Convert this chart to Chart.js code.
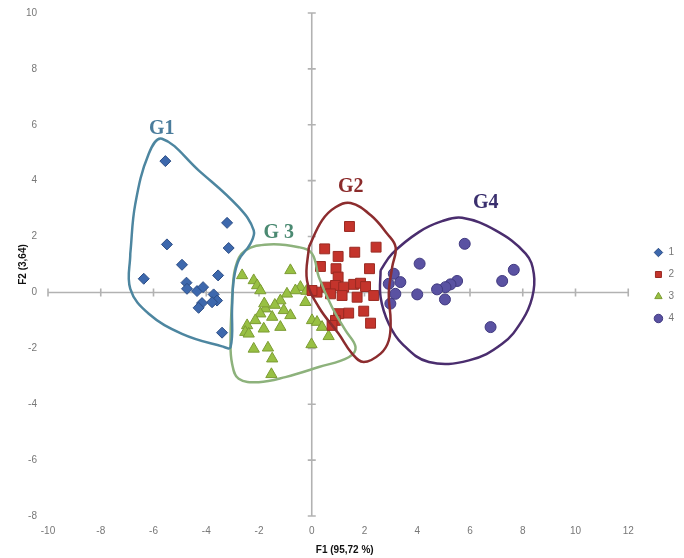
<!DOCTYPE html>
<html>
<head>
<meta charset="utf-8">
<script src="https://cdn.jsdelivr.net/npm/chart.js@4/dist/chart.umd.min.js"></script>
<style>
html,body{margin:0;padding:0;background:#fff;}
#c{display:block;}
</style>
</head>
<body>
<canvas id="c" width="684" height="558"></canvas>
<script>
// ---- axis ranges / titles ----
const xRange = [-10, 12];
const yRange = [-8, 10];
const tickStep = 2;
const xTitle = 'F1 (95,72 %)';
const yTitle = 'F2 (3,64)';

// ---- series (F1, F2) ----
const seriesNames = ['1', '2', '3', '4'];
const group1 = [[-5.55,4.70],[-3.21,2.49],[-5.49,1.72],[-3.15,1.59],[-4.92,0.99],[-6.37,0.49],[-3.55,0.61],[-4.75,0.35],[-4.73,0.13],[-4.35,0.05],[-4.12,0.19],[-3.72,-0.07],[-3.59,-0.29],[-3.78,-0.35],[-4.16,-0.38],[-4.29,-0.55],[-3.40,-1.44]];
const group2 = [[1.43,2.36],[0.49,1.56],[1.00,1.29],[1.63,1.44],[2.44,1.62],[0.33,0.93],[0.92,0.85],[2.19,0.85],[1.00,0.55],[0.52,0.19],[0.90,0.25],[1.21,0.19],[1.59,0.29],[1.85,0.33],[2.04,0.21],[0.20,0.01],[1.15,-0.11],[1.72,-0.17],[2.35,-0.11],[0.71,-0.05],[1.02,-0.76],[1.40,-0.74],[1.97,-0.67],[0.90,-1.00],[2.23,-1.10],[0.77,-1.18],[0.01,0.07]];
const group3 = [[-2.64,0.61],[-2.20,0.43],[-2.07,0.25],[-1.95,0.07],[-0.81,0.79],[-0.43,0.19],[-0.62,0.07],[-0.94,-0.05],[-1.19,-0.29],[-0.24,-0.35],[-1.76,-0.58],[-1.06,-0.64],[-1.95,-0.76],[-1.50,-0.88],[-0.81,-0.82],[-2.14,-1.00],[-2.45,-1.18],[-1.82,-1.30],[-1.19,-1.24],[-2.52,-1.42],[0.01,-1.00],[0.20,-1.06],[0.39,-1.24],[0.64,-1.57],[-0.01,-1.86],[-2.20,-2.02],[-1.66,-1.98],[-1.50,-2.37],[-1.53,-2.93],[-2.39,-1.48],[-1.80,-0.40],[-0.20,0.05],[-1.40,-0.45]];
const group4 = [[5.80,1.74],[4.09,1.03],[7.66,0.81],[7.22,0.41],[5.51,0.41],[5.26,0.29],[5.07,0.19],[4.75,0.11],[4.00,-0.07],[5.05,-0.25],[3.11,0.67],[3.36,0.37],[3.17,-0.05],[2.98,-0.40],[6.78,-1.24],[2.92,0.31]];

// ---- group outlines (closed, in F1/F2 units) ----
const hullNames = ['G1', 'G2', 'G 3', 'G4'];
const hullG1 = [[-6.88,1.39],[-6.69,3.17],[-6.18,4.96],[-5.68,5.50],[-4.29,4.37],[-2.77,3.05],[-2.20,2.22],[-2.33,1.74],[-2.77,1.15],[-2.96,0.43],[-3.02,-0.53],[-3.08,-1.96],[-3.40,-1.93],[-4.92,-1.48],[-6.18,-0.76],[-6.88,0.13],[-6.88,1.39]];
const hullG2 = [[-0.11,1.62],[0.39,2.58],[0.90,3.05],[1.47,3.20],[2.24,2.76],[2.86,2.10],[3.18,1.62],[3.05,0.91],[2.92,-0.05],[2.99,-1.00],[2.92,-1.72],[2.61,-2.19],[1.97,-2.49],[1.53,-2.19],[1.02,-1.48],[0.27,-0.53],[-0.18,0.43],[-0.11,1.62]];
const hullG3 = [[-3.02,-0.17],[-2.89,0.91],[-2.52,1.50],[-1.63,1.72],[-0.49,1.62],[0.01,1.39],[0.27,0.55],[0.77,-0.53],[1.28,-1.36],[1.66,-1.96],[1.40,-2.32],[0.27,-2.67],[-1.00,-3.03],[-2.01,-3.21],[-2.77,-3.09],[-3.02,-2.55],[-3.08,-1.72],[-3.02,-0.17]];
const hullG4 = [[2.61,0.79],[3.05,1.39],[4.06,2.16],[4.94,2.55],[5.70,2.67],[6.97,2.22],[8.11,1.39],[8.42,0.67],[8.36,-0.17],[7.98,-1.00],[7.22,-1.84],[5.96,-2.43],[4.44,-2.49],[3.43,-1.84],[2.92,-1.12],[2.61,-0.17],[2.61,0.79]];
const hullLabelX = [-5.69, 1.48, -1.25, 6.60];
const hullLabelY = [5.85, 3.79, 2.15, 3.19];

// ---- styles ----
const groups = [group1, group2, group3, group4];
const pointStyles = ['rectRot', 'rect', 'triangle', 'circle'];
const pointRadii = [5.5, 7, 6.5, 5.5];
const fillColors = ['#3d68ad', '#c4342c', '#98c043', '#5a52a2'];
const edgeColors = ['#2c4d85', '#9a2a22', '#7c9c33', '#413a80'];
const hulls = [hullG1, hullG2, hullG3, hullG4];
const hullColors = ['#4d86a0', '#8c2c2e', '#8db27c', '#4a2d6e'];
const hullTextColors = ['#4a7c9c', '#8b2b2b', '#4b8a72', '#3a2f6e'];

const toXY = arr => arr.map(p => ({x: p[0], y: p[1]}));

const datasets = [];
hulls.forEach((h, i) => {
  datasets.push({
    label: hullNames[i], data: toXY(h), isHull: true,
    showLine: true, tension: 0.4, borderColor: hullColors[i], borderWidth: 2.5,
    pointRadius: 0, pointHoverRadius: 0, fill: false
  });
});
groups.forEach((g, i) => {
  datasets.push({
    label: seriesNames[i], data: toXY(g),
    pointStyle: pointStyles[i], pointRadius: pointRadii[i], pointHoverRadius: pointRadii[i],
    backgroundColor: fillColors[i], borderColor: edgeColors[i], pointBorderWidth: 1
  });
});

const zeroAxes = {
  id: 'zeroAxes',
  beforeDatasetsDraw(chart) {
    const {ctx, scales: {x, y}} = chart;
    const x0 = x.getPixelForValue(0), y0 = y.getPixelForValue(0);
    const xl = x.getPixelForValue(xRange[0]), xr = x.getPixelForValue(xRange[1]);
    const yt = y.getPixelForValue(yRange[1]), yb = y.getPixelForValue(yRange[0]);
    ctx.save();
    ctx.strokeStyle = '#b2b2b2';
    ctx.lineWidth = 1.6;
    ctx.beginPath();
    ctx.moveTo(xl, y0); ctx.lineTo(xr, y0);
    ctx.moveTo(x0, yt); ctx.lineTo(x0, yb);
    x.ticks.forEach(t => { const p = x.getPixelForValue(t.value); ctx.moveTo(p, y0 - 4); ctx.lineTo(p, y0 + 4); });
    y.ticks.forEach(t => { const p = y.getPixelForValue(t.value); ctx.moveTo(x0 - 4, p); ctx.lineTo(x0 + 4, p); });
    ctx.stroke();
    ctx.restore();
  }
};

const hullText = {
  id: 'hullText',
  afterDatasetsDraw(chart) {
    const {ctx, scales: {x, y}} = chart;
    ctx.save();
    ctx.font = 'bold 20px "Liberation Serif", "DejaVu Serif", serif';
    ctx.textAlign = 'center';
    ctx.textBaseline = 'middle';
    hullNames.forEach((n, i) => {
      ctx.fillStyle = hullTextColors[i];
      ctx.fillText(n, x.getPixelForValue(hullLabelX[i]), y.getPixelForValue(hullLabelY[i]));
    });
    ctx.restore();
  }
};

new Chart(document.getElementById('c'), {
  type: 'scatter',
  data: { datasets },
  options: {
    responsive: false,
    animation: false,
    layout: { padding: { top: 13, right: 0, bottom: 0, left: 0 } },
    plugins: {
      tooltip: { enabled: false },
      legend: {
        position: 'right',
        align: 'center',
        labels: {
          usePointStyle: true, boxHeight: 6, padding: 12,
          color: '#777', font: { size: 10, family: '"Liberation Sans", Arial, sans-serif' },
          filter: (item, data) => !data.datasets[item.datasetIndex].isHull
        }
      }
    },
    scales: {
      x: {
        type: 'linear', min: xRange[0], max: 12.5,
        grid: { display: false }, border: { display: false },
        ticks: { stepSize: tickStep, includeBounds: false, color: '#777', padding: 1,
                 font: { size: 10, family: '"Liberation Sans", Arial, sans-serif' } },
        title: { display: true, text: xTitle, color: '#111', padding: { top: 4, bottom: 2 },
                 font: { size: 10, weight: 'bold', family: '"Liberation Sans", Arial, sans-serif' } },
        afterFit(s) { s.height = 42; }
      },
      y: {
        type: 'linear', min: yRange[0], max: yRange[1],
        grid: { display: false }, border: { display: false },
        ticks: { stepSize: tickStep, includeBounds: false, color: '#777', padding: 3,
                 font: { size: 10, family: '"Liberation Sans", Arial, sans-serif' } },
        title: { display: true, text: yTitle, color: '#111', padding: { top: 17, bottom: 2 },
                 font: { size: 10, weight: 'bold', family: '"Liberation Sans", Arial, sans-serif' } },
        afterFit(s) { s.width = 48; }
      }
    }
  },
  plugins: [zeroAxes, hullText]
});
</script>
</body>
</html>
